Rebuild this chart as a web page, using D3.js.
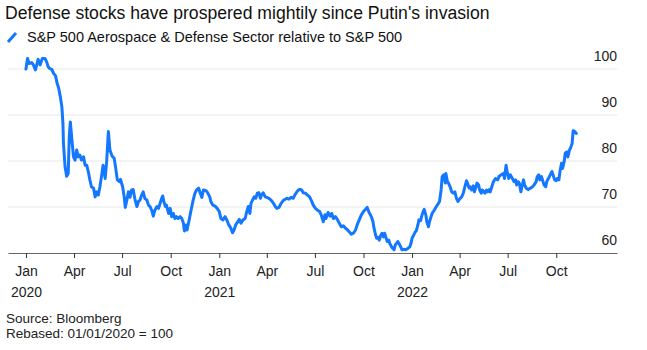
<!DOCTYPE html>
<html>
<head>
<meta charset="utf-8">
<script src="https://cdn.jsdelivr.net/npm/d3@7"></script>
<style>
  body { margin: 0; background: #fff; }
  svg { display: block; font-family: "Liberation Sans", Arial, sans-serif; }
</style>
</head>
<body>
<svg id="chart"></svg>
<script>
// days since 1 Jan 2020 (rebase date) and index level
const days = [0,3,6,11,14,18,23,27,31,36,39,42,45,49,52,56,59,62,65,68,70,71,74,77,80,82,84,87,90,93,96,99,102,105,109,112,115,118,121,124,128,131,134,137,140,143,146,150,153,156,159,163,167,
  170,173,177,179,183,186,188,191,194,197,200,203,206,210,213,216,219,222,225,229,232,235,238,241,244,248,251,254,257,259,261,264,266,270,273,276,279,282,285,288,292,295,298,300,303,305,309,312,316,320,323,327,330,333,336,340,343,
  348,350,354,358,362,366,369,373,377,381,384,388,391,394,397,400,404,407,411,415,418,421,424,426,429,432,435,438,441,444,446,449,453,456,460,464,468,472,475,479,483,487,491,494,498,502,506,509,513,517,
  519,522,525,529,533,537,540,544,548,552,556,559,563,566,568,572,576,579,582,586,590,593,597,601,605,609,612,616,620,624,627,631,635,639,643,646,649,652,654,657,659,662,664,667,669,672,674,677,679,682,684,687,689,693,697,
  699,704,708,712,715,719,723,727,729,731,734,737,739,742,744,747,749,752,754,757,759,762,764,767,769,773,777,781,783,786,788,791,794,795,798,800,803,806,809,812,815,818,822,825,828,831,834,836,839,841,844,847,849,852,854,857,859,862,864,867,869,872,874,877,
  879,882,885,889,893,896,900,904,906,909,911,914,917,919,922,924,927,929,932,934,937,939,942,944,947,951,955,958,962,966,968,971,973,976,979,981,984,986,989,991,994,996,999,1001,1004,1006,1009,1011,1014,1016,1019,1021,1024,1026,1029,1031,1034,1036,1039,1042];
const values = [100,102.3,101.2,101.4,100.9,99.8,102.1,100.9,102.3,102.3,101.6,100.5,100.1,99.9,99.1,98.5,96.9,95.8,94,91.8,88.2,83.8,78.8,76.7,77.3,85.3,88.5,84.6,80.9,80.2,82.4,80.9,81.3,80.2,80.9,79.1,79.1,77.7,75.9,74.4,74.1,72.2,73.3,72.6,74.4,76.6,79.1,76.2,80.2,86.4,82.4,81.1,80.6,
  78.4,75.9,75.5,76,74.4,72.2,69.9,71.5,73.3,72.1,73.7,73.8,71.9,70.1,71.2,71.5,72.6,73.3,71.9,71.5,70.4,70.1,69.3,68,69.3,70.1,69.7,70.8,71.9,72.4,71.2,70.1,70.4,68.6,69.7,67.9,68.6,67.5,67.9,67.5,67.9,67.5,66.5,64.8,66.1,65,67.2,69,71.2,73,73.7,74.1,73,72.1,73.7,73.6,73.3,
  72.2,71.2,70.4,70.2,69.7,69,67.5,67.2,67.9,67,66.1,65.4,64.4,65,66.1,66.6,67.3,66.5,67.2,67.5,69,70.1,68.6,70.8,71.5,72.2,71.9,73,73.1,71.9,72.6,73.1,72.2,72.1,71.9,71.5,70.9,70.1,69.7,69.9,70.8,71.4,71.7,71.9,71.7,72.1,71.9,72.6,73.3,73.8,
  73.8,73.7,73.1,73,72.6,72.2,71.5,70.4,69.7,69.3,69,68.3,66.8,68.3,67.5,68.8,68,68.6,67.5,67.9,67.2,66.5,65.7,65.9,65.4,65,64.6,64.1,64.3,65,66.1,67.2,68.3,69,69.5,69.9,69,68.3,67.9,66.8,65.4,63.9,63.2,63.4,62.8,63.9,64.3,63.5,64.3,63.2,62.5,62.8,62,61.2,60.7,
  61.7,62.5,61.7,60.7,60.8,60.7,61,61.4,62.1,63.2,63.9,64.6,64.8,66.1,67.2,67,67.9,69,69.5,68.3,66.8,65.7,66.8,67.9,68.6,69.3,70.1,70.8,71.2,73.7,76.6,77,75.2,77.3,75.5,75.2,74.4,73.3,73,73.3,71.9,71.2,71.9,72.2,73,74.4,75.7,75.2,74.1,74.4,73.7,74.6,73.3,74.4,75.2,74.8,73.7,73,73.7,73.3,73,73.7,73.3,73.8,
  73.3,74.4,75.5,76.2,75.9,76.7,77,77.3,76.2,79.1,77.7,76.2,77,76.6,76,75.5,75.9,74.8,75.5,75.2,73.3,74.4,75.9,74.8,74.1,73.8,74.1,74.3,74.8,75.5,76.6,77,75.9,76.6,75.5,74.8,74.4,75.5,76.2,76.6,77.3,77.7,76.6,75.9,75.7,76.2,75.9,77.7,79.5,78.4,79.9,81.7,82,80.9,82.4,82.8,83.8,86.6,86.4,86];

const yTicks = [60, 70, 80, 90, 100];
const xTicks = ["2020-01-01","2020-04-01","2020-07-01","2020-10-01","2021-01-01","2021-04-01","2021-07-01","2021-10-01","2022-01-01","2022-04-01","2022-07-01","2022-10-01"];
const title = "Defense stocks have prospered mightily since Putin's invasion";
const seriesName = "S&P 500 Aerospace & Defense Sector relative to S&P 500";
const notes = ["Source: Bloomberg", "Rebased: 01/01/2020 = 100"];

const width = 647, height = 350;
const blue = "#1478ff";

const svg = d3.select("#chart").attr("width", width).attr("height", height);

const base = new Date(2020, 0, 1);
const data = days.map((d, i) => ({ date: d3.timeDay.offset(base, d), value: values[i] }));

const x = d3.scaleTime()
    .domain([new Date(2019, 10, 28), new Date(2023, 0, 24)])
    .range([8, 617]);
const y = d3.scaleLinear().domain([60, 100]).range([253, 69]);

// title + legend
svg.append("text")
    .attr("x", 5).attr("y", 18.5)
    .attr("font-size", 17.6)
    .attr("fill", "#111")
    .text(title);

svg.append("line")
    .attr("x1", 8).attr("y1", 42).attr("x2", 16).attr("y2", 33)
    .attr("stroke", blue).attr("stroke-width", 3);
svg.append("text")
    .attr("x", 27).attr("y", 42)
    .attr("font-size", 14.5)
    .attr("fill", "#111")
    .text(seriesName);

// gridlines + y labels
const grid = svg.append("g");
grid.selectAll("line")
    .data(yTicks.filter(d => d > 60))
    .join("line")
    .attr("x1", 8).attr("x2", 617)
    .attr("y1", d => y(d)).attr("y2", d => y(d))
    .attr("stroke", "#e8e8e8");

grid.selectAll("text")
    .data(yTicks)
    .join("text")
    .attr("x", 617)
    .attr("y", d => y(d) - 8.5)
    .attr("text-anchor", "end")
    .attr("font-size", 14)
    .attr("fill", "#222")
    .text(d => d);

// x axis
const xaxis = d3.axisBottom(x)
    .tickValues(xTicks.map(d => d3.timeParse("%Y-%m-%d")(d)))
    .tickSize(5)
    .tickSizeOuter(0)
    .tickFormat(d3.timeFormat("%b"));

const xg = svg.append("g")
    .attr("transform", `translate(0, ${y(60)})`)
    .call(xaxis);

xg.select(".domain").attr("stroke", "#666").attr("stroke-width", 1.2);
xg.selectAll(".tick line").attr("stroke", "#333");
xg.selectAll(".tick text")
    .attr("font-family", "Liberation Sans, Arial, sans-serif")
    .attr("font-size", 14)
    .attr("fill", "#222")
    .attr("dy", 0)
    .attr("y", 23);
xg.selectAll(".tick")
    .filter(d => d.getMonth() === 0)
    .append("text")
    .attr("y", 44)
    .attr("fill", "#222")
    .attr("font-size", 14)
    .attr("font-family", "Liberation Sans, Arial, sans-serif")
    .attr("text-anchor", "middle")
    .text(d => d.getFullYear());

// series
const line = d3.line()
    .x(d => x(d.date))
    .y(d => y(d.value));

svg.append("path")
    .datum(data)
    .attr("d", line)
    .attr("fill", "none")
    .attr("stroke", blue)
    .attr("stroke-width", 3)
    .attr("stroke-linejoin", "round")
    .attr("stroke-linecap", "round");

// footnotes
svg.selectAll(".note")
    .data(notes)
    .join("text")
    .attr("class", "note")
    .attr("x", 6)
    .attr("y", (d, i) => 323 + i * 15)
    .attr("font-size", 13.5)
    .attr("fill", "#222")
    .text(d => d);
</script>
</body>
</html>
